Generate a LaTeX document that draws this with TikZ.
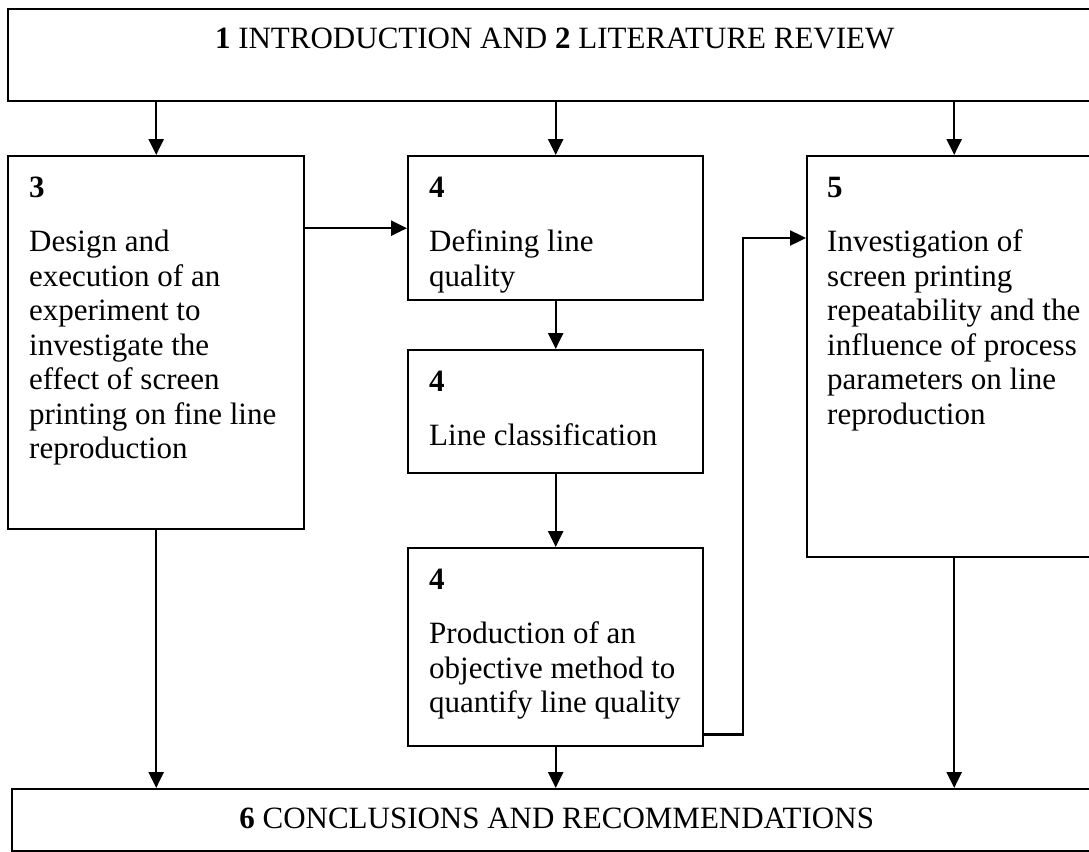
\documentclass[tikz,border=0pt]{standalone}
\usepackage{fontspec}
\setmainfont{Liberation Serif}
\usetikzlibrary{arrows.meta}
\begin{document}
\begin{tikzpicture}[x=0.5pt, y=-0.5pt,
    box/.style={draw, rectangle, anchor=north west, inner sep=0pt, line width=1.2pt},
    txt/.style={anchor=north west, align=left, inner sep=0pt, font=\fontsize{15.5pt}{17.25pt}\selectfont},
    head/.style={anchor=base, inner sep=0pt, font=\fontsize{15.5pt}{17.25pt}\selectfont},
    every path/.style={line width=1.2pt},
    arr/.style={-{Triangle[width=7.5pt,length=8pt]}}]
    \useasboundingbox (0,0) rectangle (1089,852);
    \node[box, minimum width=546.5pt, minimum height=46pt] (intro) at (7,8) {};
    \node[box, minimum width=148pt, minimum height=186.5pt] (s3) at (7,155) {};
    \node[box, minimum width=147.5pt, minimum height=72pt] (d4) at (407,155) {};
    \node[box, minimum width=147.5pt, minimum height=61.5pt] (c4) at (407,349) {};
    \node[box, minimum width=147.5pt, minimum height=99pt] (p4) at (407,547) {};
    \node[box, minimum width=147pt, minimum height=200.5pt] (s5) at (806,155) {};
    \node[box, minimum width=544.5pt, minimum height=31pt] (concl) at (11,788) {};
    \node[head] (introtxt) at ([yshift=-20pt]intro.north) {\textbf{1} INTRODUCTION AND \textbf{2} LITERATURE REVIEW};
    \node[head] (concltxt) at ([yshift=-20pt]concl.north) {\textbf{6} CONCLUSIONS AND RECOMMENDATIONS};
    \node[txt] (s3txt) at ([xshift=10.5pt,yshift=-10.5pt]s3.north west) {\textbf{3}\\[9.75pt]Design and\\execution of an\\experiment to\\investigate the\\effect of screen\\printing on fine line\\reproduction};
    \node[txt] (d4txt) at ([xshift=10.5pt,yshift=-10.5pt]d4.north west) {\textbf{4}\\[9.75pt]Defining line\\quality};
    \node[txt] (c4txt) at ([xshift=10.5pt,yshift=-10.5pt]c4.north west) {\textbf{4}\\[9.75pt]Line classification};
    \node[txt] (p4txt) at ([xshift=10.5pt,yshift=-10.5pt]p4.north west) {\textbf{4}\\[9.75pt]Production of an\\objective method to\\quantify line quality};
    \node[txt] (s5txt) at ([xshift=10pt,yshift=-10.5pt]s5.north west) {\textbf{5}\\[9.75pt]Investigation of\\screen printing\\repeatability and the\\influence of process\\parameters on line\\reproduction};
    \coordinate (jog) at (743,238);
    \draw[arr] (intro.south -| s3.north) -- (s3.north);
    \draw[arr] (intro.south -| d4.north) -- (d4.north);
    \draw[arr] (intro.south -| s5.north) -- (s5.north);
    \draw[arr] (s3.east |- d4.west) -- (d4.west);
    \draw[arr] (d4.south) -- (c4.north);
    \draw[arr] (c4.south) -- (p4.north);
    \draw[arr] ([yshift=6.5pt]p4.south east) -| (jog) -- (jog -| s5.west);
    \draw[arr] (s3.south) -- (s3.south |- concl.north);
    \draw[arr] (p4.south) -- (p4.south |- concl.north);
    \draw[arr] (s5.south) -- (s5.south |- concl.north);
\end{tikzpicture}
\end{document}
